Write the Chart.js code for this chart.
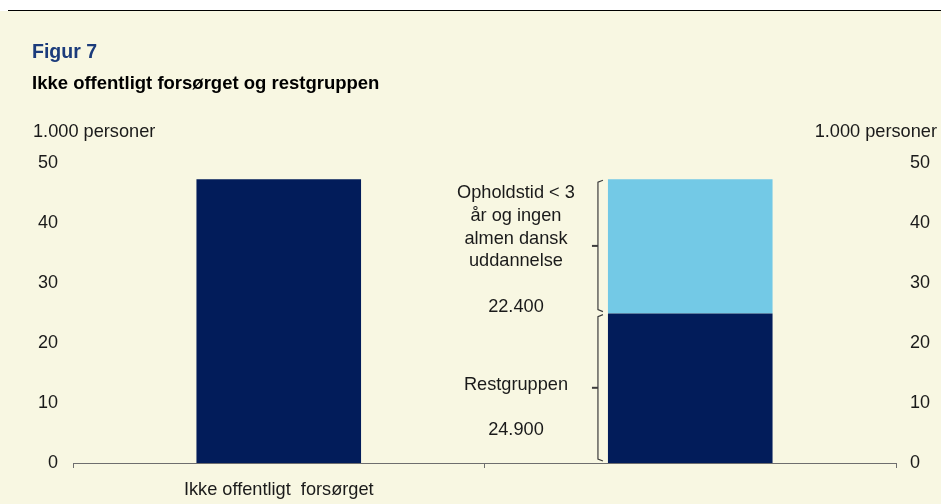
<!DOCTYPE html>
<html>
<head>
<meta charset="utf-8">
<script src="https://cdn.jsdelivr.net/npm/chart.js@4.4.0/dist/chart.umd.min.js"></script>
<style>
  html, body { margin: 0; padding: 0; background: #ffffff; }
  #wrap { width: 941px; height: 504px; position: relative; }
</style>
</head>
<body>
<div id="wrap"><canvas id="chart" width="941" height="504"></canvas></div>
<script>
// data (1.000 personer)
const categories = ['Ikke offentligt  forsørget', ''];
const totalValues = [47.3, null];
const restValues = [null, 24.9];
const opholdValues = [null, 22.4];
const yTicks = [0, 10, 20, 30, 40, 50];

const upperLabel = ['Opholdstid < 3', 'år og ingen', 'almen dansk', 'uddannelse', '', '22.400'];
const lowerLabel = ['Restgruppen', '', '24.900'];

const cream = '#f8f7e2';
const navy = '#021c5a';
const lightBlue = '#73c9e6';
const FONT = 'Arial, "Liberation Sans", sans-serif';
const TXT = 18.2;

// background, top rule, titles and axis unit labels
const framePlugin = {
    id: 'frame',
    beforeDraw(chart) {
        const ctx = chart.ctx;
        ctx.save();
        ctx.fillStyle = '#ffffff';
        ctx.fillRect(0, 0, chart.width, chart.height);
        ctx.fillStyle = cream;
        ctx.fillRect(0, 11, chart.width, chart.height - 11);
        ctx.fillStyle = '#000000';
        ctx.fillRect(8, 10, chart.width - 8, 1);
        ctx.restore();
    },
    afterDraw(chart) {
        const ctx = chart.ctx;
        ctx.save();
        ctx.textBaseline = 'alphabetic';
        ctx.textAlign = 'left';
        ctx.fillStyle = '#1b3b7b';
        ctx.font = 'bold 19.5px ' + FONT;
        ctx.fillText('Figur 7', 32, 58);
        ctx.fillStyle = '#000000';
        ctx.font = 'bold 18.5px ' + FONT;
        ctx.fillText('Ikke offentligt forsørget og restgruppen', 32, 89);
        ctx.font = TXT + 'px ' + FONT;
        ctx.fillStyle = '#1a1a1a';
        ctx.fillText('1.000 personer', 33, 137);
        ctx.textAlign = 'right';
        ctx.fillText('1.000 personer', 937, 137);
        ctx.restore();
    }
};

// brackets and labels beside the stacked bar
const bracketPlugin = {
    id: 'brackets',
    afterDatasetsDraw(chart) {
        const ctx = chart.ctx;
        const y = chart.scales.y;
        const bar = chart.getDatasetMeta(1).data[1];
        const left = bar.x - bar.width / 2;
        const bx = left - 10;
        const tx = left - 92;

        const parts = [
            { from: restValues[1] + opholdValues[1], to: restValues[1], lines: upperLabel, first: -53 },
            { from: restValues[1], to: 0, lines: lowerLabel, first: -3 }
        ];

        ctx.save();
        parts.forEach(p => {
            const top = y.getPixelForValue(p.from) + 1;
            const bot = y.getPixelForValue(p.to) - 2;
            const mid = (top + bot) / 2;
            ctx.strokeStyle = '#3c3c3c';
            ctx.lineWidth = 1.2;
            ctx.beginPath();
            ctx.moveTo(bx + 5, top);
            ctx.lineTo(bx, top + 2);
            ctx.lineTo(bx, bot - 2);
            ctx.lineTo(bx + 5, bot);
            ctx.stroke();
            ctx.lineWidth = 2;
            ctx.beginPath();
            ctx.moveTo(bx, mid);
            ctx.lineTo(bx - 6, mid);
            ctx.stroke();

            ctx.fillStyle = '#1a1a1a';
            ctx.font = TXT + 'px ' + FONT;
            ctx.textAlign = 'center';
            ctx.textBaseline = 'middle';
            p.lines.forEach((t, i) => {
                ctx.fillText(t, tx, mid + p.first + i * 22.8);
            });
        });
        ctx.restore();
    }
};

const ctx = document.getElementById('chart').getContext('2d');
new Chart(ctx, {
    type: 'bar',
    data: {
        labels: categories,
        datasets: [{
            label: 'Ikke offentligt forsørget',
            data: totalValues,
            backgroundColor: navy
        }, {
            label: 'Restgruppen',
            data: restValues,
            backgroundColor: navy
        }, {
            label: 'Opholdstid < 3 år og ingen almen dansk uddannelse',
            data: opholdValues,
            backgroundColor: lightBlue
        }]
    },
    options: {
        responsive: false,
        animation: false,
        layout: { padding: { top: 163, left: 0, right: 0, bottom: 0 } },
        datasets: {
            bar: { barPercentage: 0.4, categoryPercentage: 1, borderWidth: 0 }
        },
        plugins: {
            legend: { display: false },
            tooltip: { enabled: false }
        },
        scales: {
            x: {
                stacked: true,
                grid: {
                    offset: true,
                    drawOnChartArea: false,
                    drawTicks: true,
                    tickLength: 5,
                    color: '#6e6e6e'
                },
                border: { display: true, color: '#6e6e6e', width: 1 },
                ticks: {
                    color: '#1a1a1a',
                    font: { family: FONT, size: TXT },
                    padding: 11,
                    maxRotation: 0
                },
                afterFit(scale) { scale.height = 41; }
            },
            y: {
                stacked: true,
                position: 'left',
                min: 0,
                max: 50,
                afterBuildTicks(scale) { scale.ticks = yTicks.map(v => ({ value: v })); },
                grid: { display: false, drawTicks: false },
                border: { display: false },
                ticks: {
                    color: '#1a1a1a',
                    font: { family: FONT, size: 18 },
                    padding: 15
                },
                afterFit(scale) { scale.width = 73; }
            },
            y2: {
                position: 'right',
                min: 0,
                max: 50,
                afterBuildTicks(scale) { scale.ticks = yTicks.map(v => ({ value: v })); },
                grid: { display: false, drawTicks: false },
                border: { display: false },
                ticks: {
                    color: '#1a1a1a',
                    font: { family: FONT, size: 18 },
                    padding: 14
                },
                afterFit(scale) { scale.width = 45; }
            }
        }
    },
    plugins: [framePlugin, bracketPlugin]
});
</script>
</body>
</html>
